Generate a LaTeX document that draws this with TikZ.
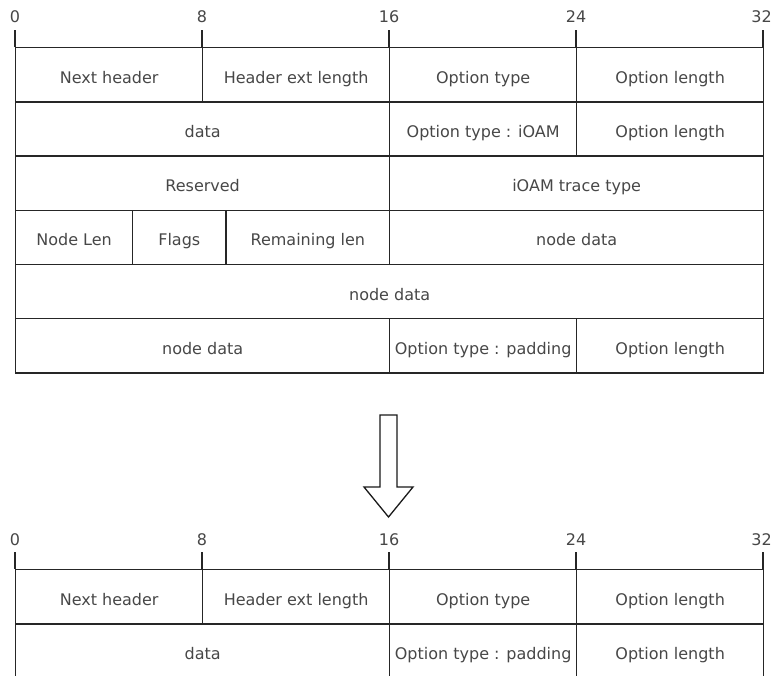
\documentclass[tikz,border=0pt]{standalone}
\usepackage{fontspec}
\setmainfont{DejaVu Sans}
\usetikzlibrary{positioning}

\begin{document}
\begin{tikzpicture}[
  x=1pt, y=-1pt,
  font=\fontsize{16}{19}\selectfont,
  cell/.style={draw=black!85, line width=1.3pt, text=black!72, inner sep=0pt,
    anchor=north west, minimum height=54.2, text height=17pt, text depth=0pt},
  bitlab/.style={text=black!72, inner sep=0pt},
  tick/.style={draw=black!85, line width=1.3pt}]
\useasboundingbox (0,0) rectangle (773,675);

\def\bw{23.375}\def\xa{15}
\def\ytop{47}\def\ybot{569}

% bit scale, before and after
\foreach \k in {0,...,4}{
  \pgfmathtruncatemacro\v{8*\k}
  \pgfmathsetmacro\lx{min(\xa+8*\k*\bw,761.5)}
  \node[bitlab] (ta\k) at (\lx,17) {\v};
  \draw[tick] ({\xa+8*\k*\bw},30) -- ({\xa+8*\k*\bw},\ytop);
  \node[bitlab] (tb\k) at (\lx,540) {\v};
  \draw[tick] ({\xa+8*\k*\bw},552) -- ({\xa+8*\k*\bw},\ybot);
}

% header with iOAM option
\foreach \n/\a/\b/\r/\t in {
  nh/0/8/0/Next header, hel/8/16/0/Header ext length,
  ot/16/24/0/Option type, ol/24/32/0/Option length,
  da/0/16/1/data, oti/16/24/1/Option type : iOAM, oli/24/32/1/Option length,
  rs/0/16/2/Reserved, tt/16/32/2/iOAM trace type,
  nl/0/5/3/Node Len, fl/5/9/3/Flags, rl/9/16/3/Remaining len, nd/16/32/3/node data,
  ndb/0/32/4/node data,
  ndc/0/16/5/node data, otp/16/24/5/Option type : padding, olp/24/32/5/Option length}{
  \node[cell, minimum width={(\b-\a)*\bw}] (\n) at ({\xa+\a*\bw},{\ytop+\r*54.2}) {\t};
}

% arrow
\draw[black!90, line width=1.3pt]
  (380,415) -- (397,415) -- (397,487) -- (413,487) -- (388.5,517)
  -- (364,487) -- (380,487) -- cycle;

% header after removal
\foreach \n/\a/\b/\r/\t in {
  nh2/0/8/0/Next header, hel2/8/16/0/Header ext length,
  ot2/16/24/0/Option type, ol2/24/32/0/Option length,
  da2/0/16/1/data, otp2/16/24/1/Option type : padding, olp2/24/32/1/Option length}{
  \node[cell, minimum width={(\b-\a)*\bw}] (\n) at ({\xa+\a*\bw},{\ybot+\r*54.2}) {\t};
}
\end{tikzpicture}
\end{document}
